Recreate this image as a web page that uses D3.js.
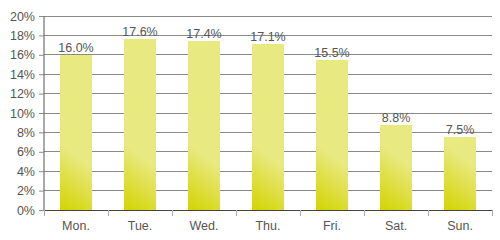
<!DOCTYPE html>
<html><head><meta charset="utf-8">
<script src="https://cdn.jsdelivr.net/npm/d3@7"></script>
<style>body{margin:0;background:#fff}svg{display:block}text{font-family:"Liberation Sans",Arial,sans-serif}</style>
</head><body>
<svg id="c" width="500" height="240"></svg>
<script>
const categories = ["Mon.","Tue.","Wed.","Thu.","Fri.","Sat.","Sun."];
const values = [16.0,17.6,17.4,17.1,15.5,8.8,7.5];
const yTicks = [0,2,4,6,8,10,12,14,16,18,20];

const svg = d3.select("#c");
const m = {l:44, r:8, t:16, b:30};
const W = 500, H = 240;
const x = d3.scaleBand().domain(categories).range([m.l, W-m.r]).padding(0);
const y = d3.scaleLinear().domain([0,20]).range([H-m.b, m.t]);

// gridlines
svg.append("g").selectAll("line").data(yTicks.filter(d=>d>0)).join("line")
  .attr("x1", m.l).attr("x2", W-m.r).attr("y1", d=>y(d)).attr("y2", d=>y(d))
  .attr("stroke","#8a8a8a").attr("stroke-width",1).attr("shape-rendering","crispEdges");

// gradients
const defs = svg.append("defs");
const bw = x.bandwidth()*0.5;
categories.forEach((c,i)=>{
  const bx = x(c) + (x.bandwidth()-bw)/2;
  const g = defs.append("linearGradient").attr("id","g"+i)
    .attr("gradientUnits","userSpaceOnUse")
    .attr("x1", bx).attr("y1", y(0)).attr("x2", bx+bw).attr("y2", y(0)-42);
  g.append("stop").attr("offset","0").attr("stop-color","#d3d300");
  g.append("stop").attr("offset","1").attr("stop-color","#e8e97e");
});

// bars
svg.append("g").selectAll("rect").data(values).join("rect")
  .attr("x",(d,i)=>x(categories[i]) + (x.bandwidth()-bw)/2)
  .attr("width", bw)
  .attr("y", d=>y(d)).attr("height", d=>y(0)-y(d))
  .attr("fill",(d,i)=>"url(#g"+i+")")
  .attr("shape-rendering","crispEdges");

// value labels
svg.append("g").selectAll("text").data(values).join("text")
  .attr("x",(d,i)=>x(categories[i]) + x.bandwidth()/2)
  .attr("y", d=>y(d)-3)
  .attr("text-anchor","middle").attr("font-size",12.5).attr("fill","#555")
  .text(d=>d.toFixed(1)+"%");

// y axis
const ya = svg.append("g").attr("transform",`translate(${m.l},0)`)
  .call(d3.axisLeft(y).tickValues(yTicks).tickFormat(d=>d+"%").tickSize(5).tickPadding(4));
ya.select(".domain").attr("stroke","#555").attr("d", `M0,${y(20)}V${y(0)}`);
ya.selectAll(".tick line").attr("stroke","#8a8a8a");
ya.selectAll("text").attr("font-size",12.5).attr("fill","#555").attr("font-family","Liberation Sans, Arial, sans-serif");

// x axis
const xa = svg.append("g").attr("transform",`translate(0,${y(0)})`);
xa.append("line").attr("x1",m.l).attr("x2",W-m.r).attr("y1",0).attr("y2",0)
  .attr("stroke","#444").attr("shape-rendering","crispEdges");
const bounds = categories.map(c=>x(c)).concat([x(categories[categories.length-1])+x.bandwidth()]);
xa.selectAll("line.t").data(bounds).join("line").attr("class","t")
  .attr("x1",d=>d).attr("x2",d=>d).attr("y1",0).attr("y2",6)
  .attr("stroke","#aaa").attr("shape-rendering","crispEdges");
xa.selectAll("text").data(categories).join("text")
  .attr("x",c=>x(c)+x.bandwidth()/2).attr("y",19.5)
  .attr("text-anchor","middle").attr("font-size",12.5).attr("fill","#555")
  .text(c=>c);
</script>
</body></html>
